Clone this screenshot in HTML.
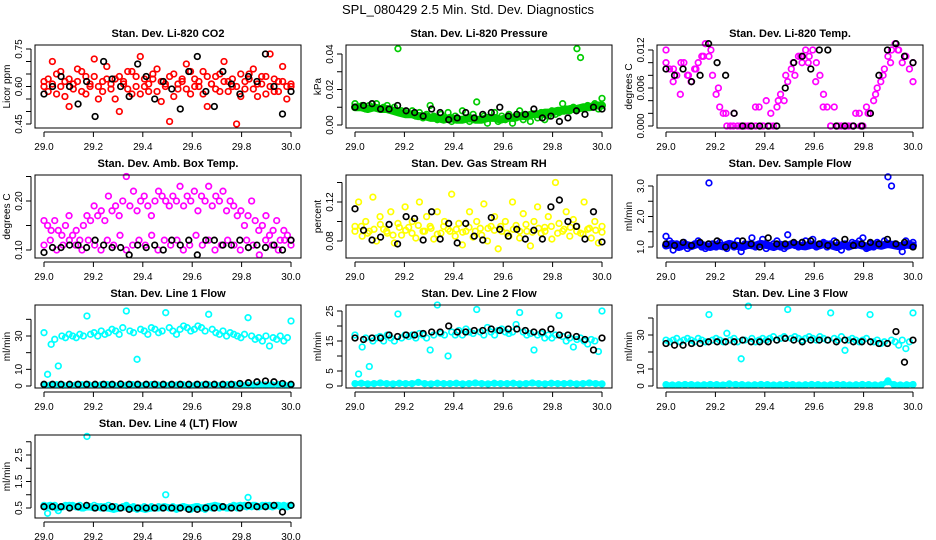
<!DOCTYPE html>
<html><head><meta charset="utf-8"><style>
html,body{margin:0;padding:0;background:#fff;}
svg{display:block;font-family:"Liberation Sans",Arial,sans-serif;}
</style></head><body>
<svg id="chart" width="936" height="540" viewBox="0 0 936 540" xmlns="http://www.w3.org/2000/svg">
<text x="468" y="14" text-anchor="middle" font-size="13">SPL_080429  2.5 Min. Std. Dev. Diagnostics</text>
</svg>
<script>
// ---- data ----
const xTicks = [29.0, 29.2, 29.4, 29.6, 29.8, 30.0];
const xTickLabels = ["29.0","29.2","29.4","29.6","29.8","30.0"];

const p1Title = "Stan. Dev. Li-820 CO2";
const p1C = [0.60,0.63,0.70,0.57,0.66,0.62,0.52,0.61,0.67,0.58,0.64,0.60,0.71,0.55,0.62,0.68,0.59,0.63,0.50,0.61,0.66,0.57,0.64,0.72,0.60,0.58,0.63,0.67,0.54,0.61,0.46,0.65,0.59,0.62,0.69,0.57,0.63,0.60,0.66,0.52,0.61,0.64,0.58,0.70,0.62,0.60,0.45,0.65,0.59,0.63,0.67,0.56,0.61,0.64,0.73,0.58,0.62,0.68,0.55,0.60];
const p1C2 = [0.62,0.58,0.61,0.65,0.60,0.56,0.63,0.59,0.62,0.66,0.57,0.61,0.64,0.60,0.58,0.63,0.61,0.55,0.64,0.62,0.59,0.66,0.60,0.57,0.63,0.61,0.65,0.58,0.62,0.60,0.64,0.56,0.61,0.63,0.59,0.66,0.60,0.62,0.57,0.64,0.61,0.59,0.65,0.62,0.58,0.63,0.60,0.56,0.62,0.65,0.59,0.61,0.64,0.57,0.60,0.63,0.58,0.62,0.60,0.61];
const p1K = [0.57,0.60,0.64,0.60,0.53,0.62,0.48,0.70,0.63,0.60,0.56,0.69,0.64,0.55,0.62,0.59,0.51,0.66,0.72,0.58,0.52,0.66,0.61,0.57,0.64,0.62,0.73,0.60,0.49,0.58];
const p1Ticks = [0.45,0.50,0.55,0.60,0.65,0.70,0.75];
const p1Labels = ["0.45","0.60","0.75"];

const p2Title = "Stan. Dev. Li-820 Pressure";
const p2C = [0.012,0.010,0.011,0.009,0.011,0.010,0.012,0.009,0.010,0.011,0.009,0.010,0.043,0.008,0.007,0.006,0.008,0.005,0.007,0.004,0.006,0.011,0.005,0.003,0.006,0.004,0.007,0.002,0.005,0.003,0.008,0.004,0.002,0.006,0.013,0.003,0.005,0.001,0.004,0.007,0.002,0.005,0.003,0.006,0.001,0.004,0.008,0.003,0.005,0.002,0.006,0.004,0.007,0.003,0.005,0.008,0.006,0.007,0.012,0.009,0.008,0.010,0.043,0.038,0.009,0.011,0.010,0.012,0.009,0.015];
const p2C2 = [0.010,0.010,0.009,0.010,0.009,0.009,0.008,0.007,0.006,0.006,0.005,0.005,0.004,0.004,0.003,0.004,0.003,0.003,0.004,0.003,0.003,0.004,0.004,0.003,0.004,0.004,0.005,0.005,0.006,0.006,0.007,0.007,0.008,0.008,0.009,0.009,0.010,0.010,0.011,0.011];
const p2K = [0.010,0.011,0.012,0.009,0.009,0.011,0.008,0.007,0.005,0.009,0.007,0.003,0.004,0.007,0.004,0.006,0.007,0.010,0.005,0.006,0.006,0.009,0.004,0.005,0.002,0.004,0.008,0.006,0.010,0.009];
const p2Ticks = [0,0.01,0.02,0.03,0.04];
const p2Labels = ["0.00","0.02","0.04"];

const p3Title = "Stan. Dev. Li-820 Temp.";
const p3C = [0.012,0.009,0.007,0.008,0.005,0.010,0.008,0.007,0.009,0.010,0.011,0.013,0.011,0.008,0.005,0.003,0.002,0.000,0.000,0.002,0.000,0.000,0.000,0.000,0.000,0.003,0.003,0.000,0.004,0.000,0.000,0.003,0.005,0.004,0.007,0.009,0.008,0.011,0.010,0.012,0.011,0.012,0.010,0.008,0.005,0.003,0.000,0.003,0.000,0.000,0.000,0.000,0.000,0.002,0.002,0.000,0.003,0.002,0.004,0.006,0.007,0.009,0.011,0.012,0.013,0.012,0.010,0.011,0.009,0.007];
const p3C2 = [0.010,0.009,0.010,0.008,0.009,0.011,0.012,0.006,0.002,0.000,0.000,0.000,0.000,0.000,0.002,0.004,0.008,0.010,0.011,0.010,0.007,0.003,0.000,0.000,0.000,0.000,0.000,0.002,0.005,0.008,0.010,0.012,0.011,0.010];
const p3K = [0.009,0.008,0.009,0.007,0.008,0.013,0.010,0.008,0.002,0.000,0.000,0.000,0.000,0.000,0.006,0.010,0.011,0.009,0.012,0.012,0.000,0.000,0.000,0.000,0.002,0.008,0.012,0.013,0.011,0.010];
const p3Ticks = [0,0.002,0.004,0.006,0.008,0.010,0.012];
const p3Labels = ["0.000","0.006","0.012"];

const p4Title = "Stan. Dev. Amb. Box Temp.";
const p4C = [0.16,0.15,0.14,0.16,0.14,0.13,0.15,0.17,0.13,0.14,0.12,0.15,0.17,0.16,0.19,0.17,0.18,0.16,0.21,0.18,0.19,0.17,0.20,0.25,0.19,0.22,0.18,0.20,0.21,0.19,0.17,0.20,0.22,0.21,0.20,0.19,0.21,0.20,0.23,0.19,0.21,0.20,0.22,0.18,0.21,0.20,0.23,0.19,0.21,0.20,0.22,0.18,0.20,0.19,0.17,0.18,0.15,0.17,0.20,0.16,0.14,0.15,0.17,0.13,0.14,0.16,0.12,0.14,0.13,0.12];
const p4C2 = [0.11,0.12,0.10,0.11,0.12,0.11,0.10,0.12,0.11,0.10,0.12,0.11,0.13,0.10,0.11,0.12,0.11,0.13,0.10,0.12,0.11,0.12,0.10,0.11,0.13,0.11,0.12,0.10,0.11,0.12,0.11,0.10,0.12,0.11,0.09,0.12,0.11,0.10,0.12,0.11];
const p4K = [0.095,0.105,0.105,0.11,0.11,0.105,0.12,0.11,0.105,0.105,0.09,0.11,0.105,0.11,0.10,0.12,0.11,0.12,0.09,0.12,0.12,0.11,0.11,0.12,0.105,0.11,0.105,0.11,0.10,0.12];
const p4Ticks = [0.10,0.15,0.20,0.25];
const p4Labels = ["0.10","0.20"];

const p5Title = "Stan. Dev. Gas Stream RH";
const p5C = [0.095,0.120,0.085,0.100,0.090,0.125,0.080,0.105,0.092,0.088,0.110,0.078,0.098,0.086,0.115,0.094,0.100,0.083,0.120,0.090,0.105,0.095,0.082,0.110,0.088,0.100,0.092,0.128,0.085,0.098,0.076,0.090,0.110,0.084,0.100,0.093,0.118,0.080,0.095,0.105,0.072,0.090,0.100,0.085,0.120,0.096,0.083,0.108,0.090,0.075,0.100,0.115,0.088,0.094,0.105,0.082,0.140,0.098,0.090,0.110,0.085,0.102,0.095,0.088,0.120,0.092,0.083,0.100,0.078,0.095];
const p5C2 = [0.09,0.095,0.088,0.092,0.097,0.09,0.086,0.094,0.091,0.088,0.096,0.09,0.093,0.087,0.095,0.09,0.092,0.089,0.094,0.09,0.086,0.093,0.091,0.095,0.088,0.092,0.09,0.097,0.089,0.093,0.09,0.095,0.088,0.092,0.094,0.09,0.087,0.093,0.091,0.089];
const p5K = [0.113,0.091,0.081,0.084,0.097,0.077,0.105,0.103,0.081,0.110,0.082,0.098,0.078,0.098,0.085,0.081,0.104,0.092,0.085,0.092,0.082,0.091,0.082,0.115,0.122,0.100,0.095,0.082,0.110,0.079];
const p5Ticks = [0.08,0.10,0.12,0.14];
const p5Labels = ["0.08","0.12"];

const p6Title = "Stan. Dev. Sample Flow";
const p6C = [1.35,1.2,0.9,1.1,1.0,1.15,0.95,1.05,1.1,1.2,1.0,0.95,3.1,1.1,1.0,1.15,1.05,0.95,1.1,1.0,1.2,0.85,1.1,1.05,1.3,1.0,1.1,1.25,0.95,1.05,1.1,1.2,1.0,0.95,1.4,1.1,1.05,1.0,1.15,1.2,1.1,1.25,1.0,1.05,1.15,1.0,1.1,1.2,1.05,0.9,1.1,1.0,1.15,1.05,1.2,1.3,0.95,1.1,1.0,1.15,1.05,1.2,3.3,3.0,1.1,1.05,0.85,1.2,1.1,1.15];
const p6C2 = [1.05,1.1,1.0,1.08,1.03,1.1,1.05,1.0,1.07,1.02,1.1,1.05,1.0,1.08,1.04,1.1,1.06,1.0,1.08,1.03,1.1,1.05,1.02,1.08,1.04,1.1,1.06,1.0,1.08,1.03,1.1,1.05,1.0,1.08,1.04,1.1,1.06,1.02,1.08,1.05];
const p6K = [1.1,1.05,1.15,1.05,1.15,1.1,1.2,1.0,1.05,1.2,1.1,1.0,1.3,1.1,1.1,1.15,1.15,1.2,1.1,1.05,1.15,1.25,1.05,1.1,1.15,1.1,1.25,1.1,1.15,1.0];
const p6Ticks = [1.0,1.5,2.0,2.5,3.0];
const p6Labels = ["1.0","2.0","3.0"];

const p7Title = "Stan. Dev. Line 1 Flow";
const p7C = [32,7,25,28,12,30,29,31,30,29,31,30,42,31,32,30,33,31,32,34,33,31,35,45,33,32,16,34,33,31,35,34,32,33,44,35,33,31,34,36,35,33,34,36,35,33,43,34,32,31,33,30,32,31,30,29,31,41,30,28,29,27,30,24,29,28,30,27,29,39];
const p7C2 = [0.8,0.6,0.7,0.5,0.8,0.6,0.7,0.9,0.6,0.7,0.8,0.6,0.7,0.5,0.8,0.6,0.7,0.9,0.6,0.7,0.8,0.6,0.7,0.5,0.8,0.6,0.7,0.9,0.6,0.7,0.8,0.6,0.7,0.5,0.8,0.6,0.7,0.9,0.6,0.7];
const p7K = [1,1,1,1,1,1,1,1,1,1.2,1,1,1,1,1,1,1,1,1,1,1,1,1,1.5,2,2.5,3,2.5,1.5,1];
const p7Ticks = [0,10,20,30,40];
const p7Labels = ["0","10","30"];

const p8Title = "Stan. Dev. Line 2 Flow";
const p8C = [17,4,13,16,6.5,15,16,16.5,15,17,16,15,24,16,17,16.5,17,16,17.5,17,16,12,17,27,17.5,17,10,18,17,18.5,17,19,18,17.5,25.5,18,17,19.5,18,17,18.5,19,18,17.5,18,20.5,24.5,18,17,17.5,12,17,17.5,16,17,16,17,23.5,16.5,15,16,13,15.5,16,15,14,15.5,15,11.5,25];
const p8C2 = [0.8,0.9,0.7,0.8,1.0,0.8,0.7,0.9,0.8,0.8,1.2,0.8,0.7,0.9,0.8,0.8,0.9,0.7,0.8,1.0,0.8,0.7,0.9,0.8,0.8,0.9,0.7,0.8,1.0,0.8,0.7,0.9,0.8,0.8,0.9,0.7,0.8,1.0,0.8,0.7];
const p8K = [16,15.5,16,16,17,16.5,17,17,17.5,18,18,20,18,18,18.5,18.5,19,18.5,19,19,18.5,18,18,19,17,17,16.5,15.5,12,16];
const p8Ticks = [0,5,10,15,20,25];
const p8Labels = ["0","5","15","25"];

const p9Title = "Stan. Dev. Line 3 Flow";
const p9C = [27,26,27,28,26,27,28,27,26,28,27,26,42,27,28,27,26,31,27,28,26,16,27,47,28,26,27,28,27,28,29,27,28,29,45,28,29,28,27,28,29,28,27,29,28,27,43,28,27,29,21,27,28,27,26,27,28,42,26,27,25,26,3,27,26,24,27,22,26,43];
const p9C2 = [0.8,0.6,0.7,0.9,0.8,0.6,0.7,0.9,0.8,0.6,1.2,0.9,0.8,0.6,0.7,0.9,0.8,0.6,0.7,0.9,0.8,0.6,0.7,0.9,0.8,0.6,0.7,0.9,0.8,0.6,0.7,0.9,0.8,0.6,0.7,2.5,0.8,0.6,0.7,0.9];
const p9K = [25,24,24,25,25,26,26,26,26,27,26,26,26,27,28,27,26,27,27,27,26,27,26,26,26,25,25,32,14,27];
const p9Ticks = [0,10,20,30,40];
const p9Labels = ["0","10","30"];

const p10Title = "Stan. Dev. Line 4 (LT) Flow";
const p10C = [0.6,0.3,0.55,0.6,0.4,0.55,0.6,0.55,0.6,0.55,0.6,0.5,3.2,0.55,0.6,0.55,0.5,0.55,0.6,0.5,0.55,0.5,0.55,0.6,0.5,0.55,0.45,0.5,0.55,0.5,0.55,0.5,0.55,0.5,1.0,0.5,0.55,0.45,0.5,0.55,0.5,0.45,0.5,0.55,0.5,0.45,0.55,0.5,0.55,0.5,0.55,0.5,0.55,0.6,0.5,0.55,0.6,0.9,0.55,0.6,0.55,0.6,0.55,0.6,0.55,0.6,0.55,0.6,0.55,0.6];
const p10C2 = [0.55,0.6,0.5,0.55,0.6,0.55,0.5,0.55,0.5,0.55,0.5,0.45,0.5,0.55,0.5,0.5,0.45,0.5,0.5,0.55,0.5,0.5,0.55,0.5,0.55,0.5,0.55,0.6,0.55,0.5,0.55,0.6,0.55,0.6,0.55,0.6,0.55,0.6,0.55,0.6];
const p10K = [0.55,0.55,0.55,0.5,0.55,0.6,0.5,0.5,0.55,0.5,0.45,0.5,0.5,0.5,0.5,0.5,0.5,0.45,0.45,0.5,0.5,0.55,0.5,0.5,0.6,0.55,0.55,0.6,0.35,0.6];
const p10Ticks = [0.5,1.0,1.5,2.0,2.5,3.0];
const p10Labels = ["0.5","1.5","2.5"];

// ---- layout (positions/styles only) ----
const panels = [
 {id:1,title:p1Title,c:p1C,c2:p1C2,k:p1K,ticks:p1Ticks,labels:p1Labels,ylab:"Licor ppm",color:"#ff0000",col:0,row:0,bw:0,ym:[0.45,124,0.75,49]},
 {id:2,title:p2Title,c:p2C,c2:p2C2,k:p2K,ticks:p2Ticks,labels:p2Labels,ylab:"kPa",color:"#00cc00",col:1,row:0,bw:8,ym:[0,125,0.04,54]},
 {id:3,title:p3Title,c:p3C,c2:p3C2,k:p3K,ticks:p3Ticks,labels:p3Labels,ylab:"degrees C",color:"#ff00ff",col:2,row:0,bw:0,ym:[0,126,0.012,50]},
 {id:4,title:p4Title,c:p4C,c2:p4C2,k:p4K,ticks:p4Ticks,labels:p4Labels,ylab:"degrees C",color:"#ff00ff",col:0,row:1,bw:0,ym:[0.10,250,0.20,201]},
 {id:5,title:p5Title,c:p5C,c2:p5C2,k:p5K,ticks:p5Ticks,labels:p5Labels,ylab:"percent",color:"#ffff00",col:1,row:1,bw:0,ym:[0.08,241,0.12,202]},
 {id:6,title:p6Title,c:p6C,c2:p6C2,k:p6K,ticks:p6Ticks,labels:p6Labels,ylab:"ml/min",color:"#0000ff",col:2,row:1,bw:8,ym:[1,247,3,186]},
 {id:7,title:p7Title,c:p7C,c2:p7C2,k:p7K,ticks:p7Ticks,labels:p7Labels,ylab:"ml/min",color:"#00ffff",col:0,row:2,bw:5,ym:[0,386,30,336]},
 {id:8,title:p8Title,c:p8C,c2:p8C2,k:p8K,ticks:p8Ticks,labels:p8Labels,ylab:"ml/min",color:"#00ffff",col:1,row:2,bw:5,ym:[0,386,25,311]},
 {id:9,title:p9Title,c:p9C,c2:p9C2,k:p9K,ticks:p9Ticks,labels:p9Labels,ylab:"ml/min",color:"#00ffff",col:2,row:2,bw:5,ym:[0,386,30,335]},
 {id:10,title:p10Title,c:p10C,c2:p10C2,k:p10K,ticks:p10Ticks,labels:p10Labels,ylab:"ml/min",color:"#00ffff",col:0,row:3,bw:7,ym:[0.5,508,2.5,455]}
];
const colX = [35,346,657];
const BOXW = 266, BOXH = 83;
const NS = "http://www.w3.org/2000/svg";
const svg = document.getElementById("chart");

function mk(tag, attrs, parent){
  const e = document.createElementNS(NS, tag);
  for (const k in attrs) e.setAttribute(k, attrs[k]);
  parent.appendChild(e);
  return e;
}

panels.forEach(p => {
  const bx = colX[p.col], by = 45 + p.row*130;
  const xs = v => bx + 9 + (v - 29) * 247;
  const ys = v => p.ym[1] + (v - p.ym[0]) * (p.ym[3] - p.ym[1]) / (p.ym[2] - p.ym[0]);
  const g = mk("g", {}, svg);
  
  

  const t = mk("text", {x: bx + BOXW/2, y: by - 8, "text-anchor":"middle", "font-size":"11", "font-weight":"bold"}, g);
  t.textContent = p.title;
  
  

  const pts = mk("g", {fill:"none", "stroke-width":"1.7"}, g);
  
  

  if (p.bw > 0) {
    const n2 = p.c2.length;
    const d = p.c2.map((v, i) => (i ? "L" : "M") + xs(29 + i/(n2-1)).toFixed(1) + " " + ys(v).toFixed(1)).join(" ");
    const band = mk("path", {d: d, stroke: p.color, "stroke-width": p.bw, "stroke-linejoin":"round", "stroke-linecap":"round", fill:"none"}, pts);
    
    
  }
  const drawSeries = (arr, color, name) => {
    const n = arr.length;
    arr.forEach((v, i) => {
      const c = mk("circle", {cx: xs(29 + i/(n-1)), cy: ys(v), r: 2.8, stroke: color}, pts);
      
      
    });
  };
  drawSeries(p.c2, p.color, 'point-band');
  drawSeries(p.c, p.color, 'point-main');
  drawSeries(p.k, "#000000", 'point-black');

  const box = mk("rect", {x: bx, y: by, width: BOXW, height: BOXH, fill:"none", stroke:"#000", "stroke-width":"1"}, g);
  
  

  const xa = mk("g", {}, g);
  
  
  mk("line", {x1: xs(29), x2: xs(30), y1: by+BOXH+4, y2: by+BOXH+4, stroke:"#000"}, xa);
  xTicks.forEach((v, i) => {
    mk("line", {x1: xs(v), x2: xs(v), y1: by+BOXH+4, y2: by+BOXH+9, stroke:"#000"}, xa);
    const tl = mk("text", {x: xs(v), y: by+BOXH+22, "text-anchor":"middle", "font-size":"10"}, xa);
    tl.textContent = xTickLabels[i];
    
    
  });

  const ya = mk("g", {}, g);
  
  
  const t0 = p.ticks[0], t1 = p.ticks[p.ticks.length-1];
  mk("line", {x1: bx-4, x2: bx-4, y1: ys(t0), y2: ys(t1), stroke:"#000"}, ya);
  p.ticks.forEach(v => {
    mk("line", {x1: bx-9, x2: bx-4, y1: ys(v), y2: ys(v), stroke:"#000"}, ya);
  });
  p.labels.forEach(l => {
    const v = parseFloat(l);
    const tl = mk("text", {x: 0, y: 0, "text-anchor":"middle", "font-size":"10", transform:"translate(" + (bx-13) + "," + ys(v) + ") rotate(-90)"}, ya);
    tl.textContent = l;
    
    
  });
  const yl = mk("text", {x:0, y:0, "text-anchor":"middle", "font-size":"10", transform:"translate(" + (bx-25) + "," + (by+BOXH/2) + ") rotate(-90)"}, g);
  yl.textContent = p.ylab;
  
  
});
</script>
</body></html>
